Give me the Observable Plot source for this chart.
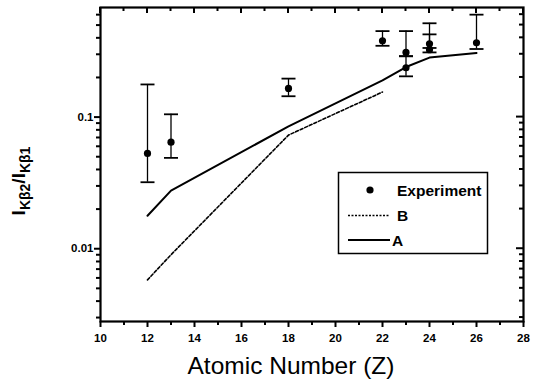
<!DOCTYPE html>
<html>
<head>
<meta charset="utf-8">
<script src="https://cdn.jsdelivr.net/npm/d3@7"></script>
<script src="https://cdn.jsdelivr.net/npm/@observablehq/plot@0.6"></script>
<style>
  html, body { margin: 0; padding: 0; background: #fff; }
</style>
</head>
<body>
<div id="chart"></div>
<script>
// Experimental points (atomic number Z, ratio, error low, error high)
const expZ  = [12, 13, 18, 22, 23, 23, 24, 24, 26];
const expV  = [0.053, 0.0645, 0.165, 0.38, 0.31, 0.237, 0.36, 0.325, 0.367];
const expLo = [0.032, 0.049, 0.144, 0.348, 0.29, 0.204, 0.335, 0.31, 0.329];
const expHi = [0.177, 0.105, 0.196, 0.45, 0.45, 0.29, 0.425, 0.516, 0.6];

// Model A (solid)
const aZ = [12, 13, 18, 22, 23, 24, 26];
const aV = [0.0178, 0.0276, 0.085, 0.19, 0.24, 0.283, 0.307];

// Model B (dashed)
const bZ = [12, 13, 18, 22];
const bV = [0.0058, 0.009, 0.073, 0.155];

// Scale domains and tick values
const xDomain = [10, 28];
const yDomain = [0.0028, 0.68];
const xMajor = [10, 12, 14, 16, 18, 20, 22, 24, 26, 28];
const xMinor = [11, 13, 15, 17, 19, 21, 23, 25, 27];
const yMajor = [0.01, 0.1];
const yMinor = [0.003, 0.004, 0.005, 0.006, 0.007, 0.008, 0.009,
                0.02, 0.03, 0.04, 0.05, 0.06, 0.07, 0.08, 0.09,
                0.2, 0.3, 0.4, 0.5, 0.6];

const exp = expZ.map((z, i) => ({z, v: expV[i], lo: expLo[i], hi: expHi[i]}));
const modelA = aZ.map((z, i) => ({z, v: aV[i]}));
const modelB = bZ.map((z, i) => ({z, v: bV[i]}));

const capSym = {draw(c, s) { const w = Math.sqrt(s / Math.PI); c.moveTo(-w, 0); c.lineTo(w, 0); }};

const font = "'Liberation Sans', Arial, Helvetica, sans-serif";

const chart = Plot.plot({
  width: 533,
  height: 380,
  marginLeft: 100,
  marginRight: 10,
  marginTop: 7,
  marginBottom: 59,
  style: {fontFamily: font, fontSize: "11.5px", fontWeight: "bold", color: "black", background: "white"},
  x: {domain: xDomain, label: null},
  y: {type: "log", domain: yDomain, label: null},
  marks: [
    // bottom axis
    Plot.axisX({ticks: xMajor, tickSize: 6, tickPadding: 6, tickFormat: d => String(d), strokeWidth: 2, label: null}),
    Plot.axisX({ticks: xMinor, tickSize: 4, tickFormat: null, text: null, strokeWidth: 2, label: null}),
    // left axis
    Plot.axisY({ticks: yMajor, tickSize: 6, tickPadding: 1, tickFormat: d => String(d), strokeWidth: 2, label: null}),
    Plot.axisY({ticks: yMinor, tickSize: 4, tickFormat: null, text: null, strokeWidth: 2, label: null}),
    Plot.frame({stroke: "black", strokeWidth: 2.2}),
    // model curves
    Plot.line(modelB, {x: "z", y: "v", stroke: "black", strokeWidth: 1.6, strokeDasharray: "3,2"}),
    Plot.line(modelA, {x: "z", y: "v", stroke: "black", strokeWidth: 2}),
    // error bars
    Plot.ruleX(exp, {x: "z", y1: "lo", y2: "hi", stroke: "black", strokeWidth: 1.3}),
    Plot.dot(exp, {x: "z", y: "lo", symbol: capSym, r: 7, stroke: "black", strokeWidth: 1.8}),
    Plot.dot(exp, {x: "z", y: "hi", symbol: capSym, r: 7, stroke: "black", strokeWidth: 1.8}),
    Plot.dot(exp, {x: "z", y: "v", r: 3.6, fill: "black", stroke: "none"})
  ]
});

document.getElementById("chart").appendChild(chart);

const svg = d3.select(chart);
const sx = chart.scale("x");
const sy = chart.scale("y");
const frameTop = sy.apply(yDomain[1]);
const frameRight = sx.apply(xDomain[1]);

// inward ticks on the top and right edges, placed through Plot's scales
const tk = svg.append("g").attr("stroke", "black").attr("stroke-width", 2);
xMajor.forEach(v => tk.append("line").attr("x1", sx.apply(v)).attr("x2", sx.apply(v)).attr("y1", frameTop).attr("y2", frameTop + 6));
xMinor.forEach(v => tk.append("line").attr("x1", sx.apply(v)).attr("x2", sx.apply(v)).attr("y1", frameTop).attr("y2", frameTop + 4));
yMajor.forEach(v => tk.append("line").attr("y1", sy.apply(v)).attr("y2", sy.apply(v)).attr("x1", frameRight).attr("x2", frameRight - 7));
yMinor.forEach(v => tk.append("line").attr("y1", sy.apply(v)).attr("y2", sy.apply(v)).attr("x1", frameRight).attr("x2", frameRight - 4));

// x axis title
svg.append("text")
  .attr("x", 291).attr("y", 374)
  .attr("text-anchor", "middle")
  .attr("font-family", font)
  .attr("font-size", 24.5)
  .attr("font-weight", "normal")
  .attr("fill", "black")
  .text("Atomic Number (Z)");

// y axis title with subscripts
const yt = svg.append("text")
  .attr("transform", "translate(25,181) rotate(-90)")
  .attr("text-anchor", "middle")
  .attr("font-family", font)
  .attr("font-weight", "bold")
  .attr("fill", "black");
yt.append("tspan").attr("font-size", 19).text("I");
yt.append("tspan").attr("font-size", 14).attr("dy", 5).text("Kβ2");
yt.append("tspan").attr("font-size", 19).attr("dy", -5).text("/I");
yt.append("tspan").attr("font-size", 14).attr("dy", 5).text("Kβ1");

// legend
const lg = svg.append("g").attr("font-family", font).attr("font-weight", "bold")
  .attr("fill", "black").attr("text-anchor", "start");
lg.append("rect").attr("x", 338.5).attr("y", 172.5).attr("width", 149).attr("height", 81)
  .attr("fill", "white").attr("stroke", "black").attr("stroke-width", 1.5);
lg.append("circle").attr("cx", 370).attr("cy", 190).attr("r", 3.6).attr("fill", "black");
lg.append("text").attr("x", 397).attr("y", 195.5).attr("font-size", 15.5).attr("text-anchor", "start").text("Experiment");
lg.append("line").attr("x1", 348).attr("x2", 390).attr("y1", 215.5).attr("y2", 215.5)
  .attr("stroke", "black").attr("stroke-width", 1.3).attr("stroke-dasharray", "2,1.5");
lg.append("text").attr("x", 397).attr("y", 221).attr("font-size", 15.5).attr("text-anchor", "start").text("B");
lg.append("line").attr("x1", 348).attr("x2", 390).attr("y1", 240).attr("y2", 240)
  .attr("stroke", "black").attr("stroke-width", 1.8);
lg.append("text").attr("x", 392).attr("y", 245.5).attr("font-size", 15.5).attr("text-anchor", "start").text("A");
</script>
</body>
</html>
